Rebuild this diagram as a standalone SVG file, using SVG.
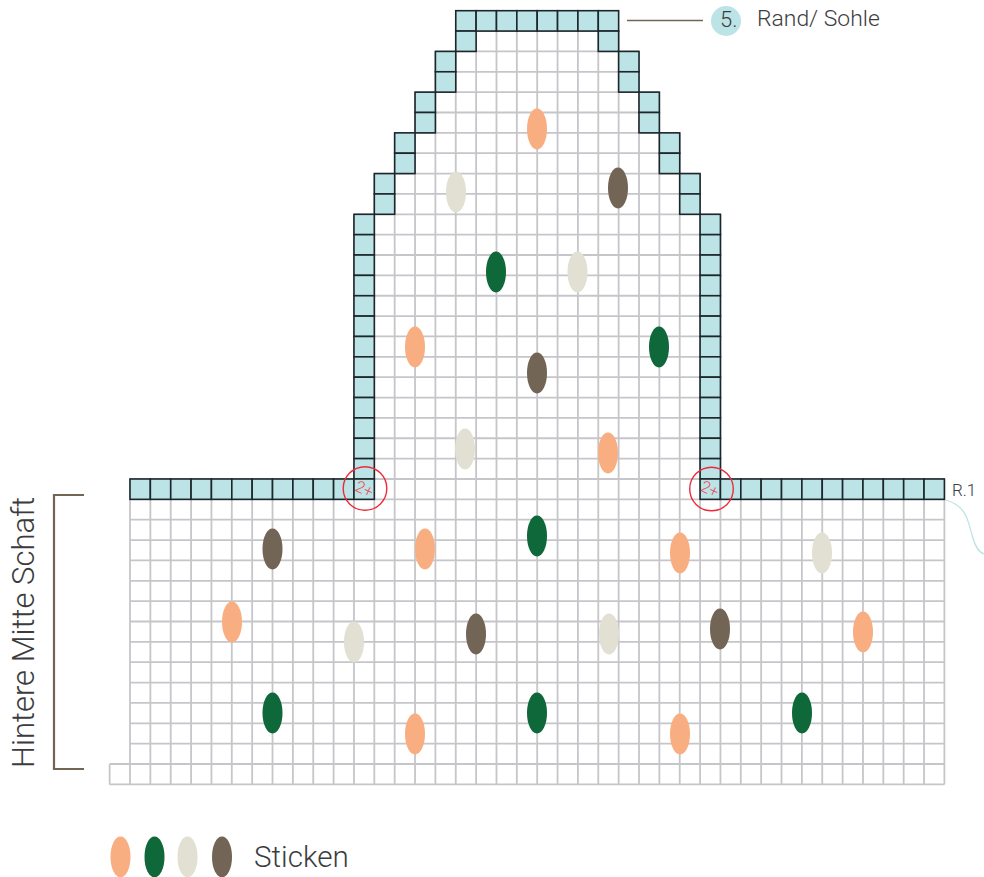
<svg xmlns="http://www.w3.org/2000/svg" width="984" height="877" viewBox="0 0 984 877">
<style>
text{font-family:Roboto,"Liberation Sans",sans-serif;font-weight:300;fill:#3c3c3f}
.g{fill:none;stroke:#c6c6ca;stroke-width:1.8}
.c{fill:#bce3e5;stroke:#1c262b;stroke-width:1.6}
.o{fill:#f9ae82}.d{fill:#0f6839}.b{fill:#e2e0d2}.t{fill:#736556}
.r{fill:none;stroke:#ee2a3a;stroke-width:1.4}
.m{fill:#ee4a55;font-size:16px}
.l{fill:none;stroke:#736556}
</style>
<defs>
<rect id="c" class="c" width="20.36" height="20.36"/>
<ellipse id="e" rx="10" ry="20.4"/>
</defs>
<rect width="984" height="877" fill="#fff"/>
<g id="grid">
<path class="g" d="M476.12 10.7V479M496.48 10.7V479M516.84 10.7V479M537.2 10.7V479M557.56 10.7V479M577.92 10.7V479M598.28 10.7V479M455.76 31V479M618.64 31V479M435.4 51.4V479M639 51.4V479M415.04 92.1V479M659.36 92.1V479M394.68 132.9V479M679.72 132.9V479M374.32 173.6V479M700.08 173.6V479M353.96 214.3V479M720.44 214.3V479"/>
<path class="g" d="M455.76 31.06H618.64M435.4 51.42H639M435.4 71.78H639M415.04 92.14H659.36M415.04 112.5H659.36M394.68 132.86H679.72M394.68 153.22H679.72M374.32 173.58H700.08M374.32 193.94H700.08M353.96 214.3H720.44M353.96 234.66H720.44M353.96 255.02H720.44M353.96 275.38H720.44M353.96 295.74H720.44M353.96 316.1H720.44M353.96 336.46H720.44M353.96 356.82H720.44M353.96 377.18H720.44M353.96 397.54H720.44M353.96 417.9H720.44M353.96 438.26H720.44M353.96 458.62H720.44M130 478.98H944.4"/>
<path class="g" d="M130 479V784.4M150.36 479V784.4M170.72 479V784.4M191.08 479V784.4M211.44 479V784.4M231.8 479V784.4M252.16 479V784.4M272.52 479V784.4M292.88 479V784.4M313.24 479V784.4M333.6 479V784.4M353.96 479V784.4M374.32 479V784.4M394.68 479V784.4M415.04 479V784.4M435.4 479V784.4M455.76 479V784.4M476.12 479V784.4M496.48 479V784.4M516.84 479V784.4M537.2 479V784.4M557.56 479V784.4M577.92 479V784.4M598.28 479V784.4M618.64 479V784.4M639 479V784.4M659.36 479V784.4M679.72 479V784.4M700.08 479V784.4M720.44 479V784.4M740.8 479V784.4M761.16 479V784.4M781.52 479V784.4M801.88 479V784.4M822.24 479V784.4M842.6 479V784.4M862.96 479V784.4M883.32 479V784.4M903.68 479V784.4M924.04 479V784.4M944.4 479V784.4M109.64 764V784.4"/>
<path class="g" d="M130 499.34H944.4M130 519.7H944.4M130 540.06H944.4M130 560.42H944.4M130 580.78H944.4M130 601.14H944.4M130 621.5H944.4M130 641.86H944.4M130 662.22H944.4M130 682.58H944.4M130 702.94H944.4M130 723.3H944.4M130 743.66H944.4M109.64 764.02H944.4M109.64 784.38H944.4"/>
</g>
<g id="rand">
<use href="#c" x="455.76" y="10.7"/><use href="#c" x="476.12" y="10.7"/><use href="#c" x="496.48" y="10.7"/><use href="#c" x="516.84" y="10.7"/><use href="#c" x="537.2" y="10.7"/><use href="#c" x="557.56" y="10.7"/><use href="#c" x="577.92" y="10.7"/><use href="#c" x="598.28" y="10.7"/>
<use href="#c" x="455.76" y="31.06"/><use href="#c" x="598.28" y="31.06"/>
<use href="#c" x="435.4" y="51.42"/><use href="#c" x="618.64" y="51.42"/>
<use href="#c" x="435.4" y="71.78"/><use href="#c" x="618.64" y="71.78"/>
<use href="#c" x="415.04" y="92.14"/><use href="#c" x="639" y="92.14"/>
<use href="#c" x="415.04" y="112.5"/><use href="#c" x="639" y="112.5"/>
<use href="#c" x="394.68" y="132.86"/><use href="#c" x="659.36" y="132.86"/>
<use href="#c" x="394.68" y="153.22"/><use href="#c" x="659.36" y="153.22"/>
<use href="#c" x="374.32" y="173.58"/><use href="#c" x="679.72" y="173.58"/>
<use href="#c" x="374.32" y="193.94"/><use href="#c" x="679.72" y="193.94"/>
<use href="#c" x="353.96" y="214.3"/><use href="#c" x="700.08" y="214.3"/>
<use href="#c" x="353.96" y="234.66"/><use href="#c" x="700.08" y="234.66"/>
<use href="#c" x="353.96" y="255.02"/><use href="#c" x="700.08" y="255.02"/>
<use href="#c" x="353.96" y="275.38"/><use href="#c" x="700.08" y="275.38"/>
<use href="#c" x="353.96" y="295.74"/><use href="#c" x="700.08" y="295.74"/>
<use href="#c" x="353.96" y="316.1"/><use href="#c" x="700.08" y="316.1"/>
<use href="#c" x="353.96" y="336.46"/><use href="#c" x="700.08" y="336.46"/>
<use href="#c" x="353.96" y="356.82"/><use href="#c" x="700.08" y="356.82"/>
<use href="#c" x="353.96" y="377.18"/><use href="#c" x="700.08" y="377.18"/>
<use href="#c" x="353.96" y="397.54"/><use href="#c" x="700.08" y="397.54"/>
<use href="#c" x="353.96" y="417.9"/><use href="#c" x="700.08" y="417.9"/>
<use href="#c" x="353.96" y="438.26"/><use href="#c" x="700.08" y="438.26"/>
<use href="#c" x="353.96" y="458.62"/><use href="#c" x="700.08" y="458.62"/>
<use href="#c" x="130" y="478.98"/><use href="#c" x="150.36" y="478.98"/><use href="#c" x="170.72" y="478.98"/><use href="#c" x="191.08" y="478.98"/><use href="#c" x="211.44" y="478.98"/><use href="#c" x="231.8" y="478.98"/><use href="#c" x="252.16" y="478.98"/><use href="#c" x="272.52" y="478.98"/><use href="#c" x="292.88" y="478.98"/><use href="#c" x="313.24" y="478.98"/><use href="#c" x="333.6" y="478.98"/><use href="#c" x="353.96" y="478.98"/>
<use href="#c" x="700.08" y="478.98"/><use href="#c" x="720.44" y="478.98"/><use href="#c" x="740.8" y="478.98"/><use href="#c" x="761.16" y="478.98"/><use href="#c" x="781.52" y="478.98"/><use href="#c" x="801.88" y="478.98"/><use href="#c" x="822.24" y="478.98"/><use href="#c" x="842.6" y="478.98"/><use href="#c" x="862.96" y="478.98"/><use href="#c" x="883.32" y="478.98"/><use href="#c" x="903.68" y="478.98"/><use href="#c" x="924.04" y="478.98"/>
</g>
<g id="stiche">
<use href="#e" class="o" x="537" y="129"/><use href="#e" class="o" x="415" y="347"/><use href="#e" class="o" x="608" y="453"/><use href="#e" class="o" x="425" y="549"/><use href="#e" class="o" x="680" y="553"/><use href="#e" class="o" x="232" y="622"/><use href="#e" class="o" x="863" y="632"/><use href="#e" class="o" x="415" y="734"/><use href="#e" class="o" x="680" y="734"/>
<use href="#e" class="d" x="496" y="272"/><use href="#e" class="d" x="659" y="347"/><use href="#e" class="d" x="537" y="536"/><use href="#e" class="d" x="272.500" y="713"/><use href="#e" class="d" x="537" y="713"/><use href="#e" class="d" x="802" y="713"/>
<use href="#e" class="b" x="456" y="192"/><use href="#e" class="b" x="577.500" y="272"/><use href="#e" class="b" x="465" y="449"/><use href="#e" class="b" x="822" y="553"/><use href="#e" class="b" x="354" y="642"/><use href="#e" class="b" x="609" y="634"/>
<use href="#e" class="t" x="618" y="188"/><use href="#e" class="t" x="537" y="373"/><use href="#e" class="t" x="272.500" y="549"/><use href="#e" class="t" x="476" y="634"/><use href="#e" class="t" x="720" y="629"/>
</g>
<g id="mark-links">
<circle class="r" cx="365" cy="488.500" r="21.800"/>
<text class="m" transform="translate(364.500 489) rotate(25)" text-anchor="middle" y="5.500">2+</text>
</g>
<g id="mark-rechts">
<circle class="r" cx="711.500" cy="489" r="21.800"/>
<text class="m" transform="translate(710 489) rotate(25)" text-anchor="middle" y="5.500">2+</text>
</g>
<g id="rand-label">
<path class="l" stroke-width="1.300" d="M627 20.500H703"/>
<circle cx="726" cy="21" r="15" fill="#bce3e5"/>
<text x="720" y="27" font-size="22">5.</text>
<text x="757" y="26" font-size="22.900">Rand/ Sohle</text>
</g>
<g id="reihe-label">
<text x="952" y="496" font-size="17">R.1</text>
<path fill="none" stroke="#bce3e5" stroke-width="1.200" d="M946 500C966 506 968 520 972 535C975 546 978 552 984 554"/>
</g>
<g id="schaft-label">
<path class="l" stroke-width="2.200" d="M84 495H54V769H84"/>
<text transform="translate(34 768) rotate(-90)" font-size="31">Hintere Mitte Schaft</text>
</g>
<g id="legende">
<use href="#e" class="o" x="120.500" y="857"/><use href="#e" class="d" x="154.500" y="857"/><use href="#e" class="b" x="187.500" y="857"/><use href="#e" class="t" x="222" y="857"/>
<text x="254" y="867" font-size="29.600">Sticken</text>
</g>
</svg>
